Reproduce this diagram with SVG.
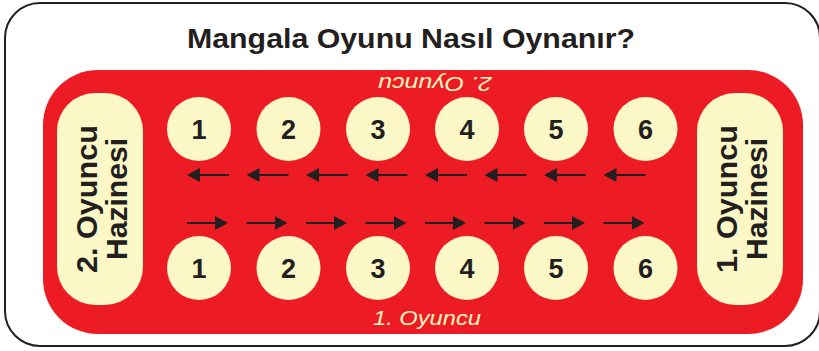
<svg xmlns="http://www.w3.org/2000/svg" width="819" height="351" viewBox="0 0 819 351">
<style>
.frame{fill:#fff;stroke:#231f20;stroke-width:2}
.board{fill:#ed1c24}
.store{fill:#fbf7c6}
.pit{fill:#fbf7c6}
.num{font-family:"Liberation Sans",Arial,sans-serif;font-weight:bold;font-size:27px;fill:#231f20;text-anchor:middle}
.store-t{font-family:"Liberation Sans",Arial,sans-serif;font-weight:bold;font-size:29px;fill:#231f20;text-anchor:middle}
.title{font-family:"Liberation Sans",Arial,sans-serif;font-weight:bold;font-size:28px;fill:#231f20;text-anchor:middle}
.player{font-family:"Liberation Sans",Arial,sans-serif;font-style:italic;font-size:21px;fill:#fbf6c0;text-anchor:middle}
.arr{stroke:#231f20;stroke-width:2;fill:none;marker-end:url(#ah)}
</style>
<defs>
<marker id="ah" viewBox="0 0 13 14" refX="10" refY="7" markerWidth="13" markerHeight="14" orient="auto" markerUnits="userSpaceOnUse">
<path d="M0,0 L13,7 L0,14 z" fill="#231f20"/>
</marker>
</defs>
<rect class="frame" x="5" y="3" width="815" height="343" rx="35"/>
<text class="title" x="411" y="48" textLength="448" lengthAdjust="spacingAndGlyphs">Mangala Oyunu Nasıl Oynanır?</text>
<rect class="board" x="43" y="70" width="760" height="264" rx="55"/>
<text class="player" x="435" y="91" transform="rotate(180 435 84)" textLength="114" lengthAdjust="spacingAndGlyphs">2. Oyuncu</text>
<text class="player" x="427" y="325" textLength="108" lengthAdjust="spacingAndGlyphs">1. Oyuncu</text>
<g id="store2">
<rect class="store" x="57" y="93" width="86" height="212" rx="38"/>
<g transform="translate(100 199) rotate(-90)">
<text class="store-t" x="0" y="-3" textLength="148" lengthAdjust="spacingAndGlyphs">2. Oyuncu</text>
<text class="store-t" x="0" y="27" textLength="122" lengthAdjust="spacingAndGlyphs">Hazinesi</text>
</g>
</g>
<g id="store1">
<rect class="store" x="697" y="93" width="86" height="212" rx="38"/>
<g transform="translate(740 199) rotate(-90)">
<text class="store-t" x="0" y="-3" textLength="148" lengthAdjust="spacingAndGlyphs">1. Oyuncu</text>
<text class="store-t" x="0" y="27" textLength="122" lengthAdjust="spacingAndGlyphs">Hazinesi</text>
</g>
</g>
<g id="top-pit-1"><circle class="pit" cx="199" cy="129" r="32"/><text class="num" x="199" y="139">1</text></g>
<g id="top-pit-2"><circle class="pit" cx="288.5" cy="129" r="32"/><text class="num" x="288.5" y="139">2</text></g>
<g id="top-pit-3"><circle class="pit" cx="378" cy="129" r="32"/><text class="num" x="378" y="139">3</text></g>
<g id="top-pit-4"><circle class="pit" cx="467" cy="129" r="32"/><text class="num" x="467" y="139">4</text></g>
<g id="top-pit-5"><circle class="pit" cx="556" cy="129" r="32"/><text class="num" x="556" y="139">5</text></g>
<g id="top-pit-6"><circle class="pit" cx="645.5" cy="129" r="32"/><text class="num" x="645.5" y="139">6</text></g>
<g id="bot-pit-1"><circle class="pit" cx="199" cy="268" r="32"/><text class="num" x="199" y="278">1</text></g>
<g id="bot-pit-2"><circle class="pit" cx="288.5" cy="268" r="32"/><text class="num" x="288.5" y="278">2</text></g>
<g id="bot-pit-3"><circle class="pit" cx="378" cy="268" r="32"/><text class="num" x="378" y="278">3</text></g>
<g id="bot-pit-4"><circle class="pit" cx="467" cy="268" r="32"/><text class="num" x="467" y="278">4</text></g>
<g id="bot-pit-5"><circle class="pit" cx="556" cy="268" r="32"/><text class="num" x="556" y="278">5</text></g>
<g id="bot-pit-6"><circle class="pit" cx="645.5" cy="268" r="32"/><text class="num" x="645.5" y="278">6</text></g>
<g id="connectors">
<line class="arr" x1="229" y1="175" x2="190" y2="175"/>
<line class="arr" x1="288.5" y1="175" x2="249.5" y2="175"/>
<line class="arr" x1="348" y1="175" x2="309" y2="175"/>
<line class="arr" x1="407.5" y1="175" x2="368.5" y2="175"/>
<line class="arr" x1="467" y1="175" x2="428" y2="175"/>
<line class="arr" x1="526.5" y1="175" x2="487.5" y2="175"/>
<line class="arr" x1="586" y1="175" x2="547" y2="175"/>
<line class="arr" x1="645.5" y1="175" x2="606.5" y2="175"/>
<line class="arr" x1="187" y1="223" x2="225" y2="223"/>
<line class="arr" x1="246.5" y1="223" x2="284.5" y2="223"/>
<line class="arr" x1="306" y1="223" x2="344" y2="223"/>
<line class="arr" x1="365.5" y1="223" x2="403.5" y2="223"/>
<line class="arr" x1="425" y1="223" x2="463" y2="223"/>
<line class="arr" x1="484.5" y1="223" x2="522.5" y2="223"/>
<line class="arr" x1="544" y1="223" x2="582" y2="223"/>
<line class="arr" x1="603.5" y1="223" x2="641.5" y2="223"/>
</g>
</svg>
